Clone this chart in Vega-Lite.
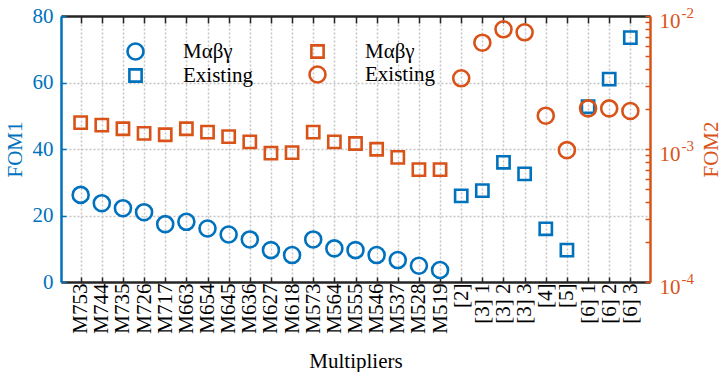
{
  "$schema": "https://vega.github.io/schema/vega-lite/v6.json",
  "width": 589,
  "height": 266,
  "autosize": "none",
  "padding": {"left": 61, "top": 16, "right": 78, "bottom": 90},
  "background": "white",
  "config": {"view": {"stroke": null}, "font": "Liberation Serif"},
  "data": {
    "values": [
      {"name": "M753", "series": "Mαβγ", "FOM1": 26.2, "FOM2": 0.00158},
      {"name": "M744", "series": "Mαβγ", "FOM1": 23.7, "FOM2": 0.00151},
      {"name": "M735", "series": "Mαβγ", "FOM1": 22.2, "FOM2": 0.00142},
      {"name": "M726", "series": "Mαβγ", "FOM1": 21.0, "FOM2": 0.00131},
      {"name": "M717", "series": "Mαβγ", "FOM1": 17.4, "FOM2": 0.00128},
      {"name": "M663", "series": "Mαβγ", "FOM1": 18.1, "FOM2": 0.00142},
      {"name": "M654", "series": "Mαβγ", "FOM1": 16.1, "FOM2": 0.00134},
      {"name": "M645", "series": "Mαβγ", "FOM1": 14.3, "FOM2": 0.00124},
      {"name": "M636", "series": "Mαβγ", "FOM1": 12.8, "FOM2": 0.00113},
      {"name": "M627", "series": "Mαβγ", "FOM1": 9.6, "FOM2": 0.00093},
      {"name": "M618", "series": "Mαβγ", "FOM1": 8.1, "FOM2": 0.00094},
      {"name": "M573", "series": "Mαβγ", "FOM1": 12.8, "FOM2": 0.00134},
      {"name": "M564", "series": "Mαβγ", "FOM1": 10.1, "FOM2": 0.00113},
      {"name": "M555", "series": "Mαβγ", "FOM1": 9.6, "FOM2": 0.0011},
      {"name": "M546", "series": "Mαβγ", "FOM1": 8.1, "FOM2": 0.000995},
      {"name": "M537", "series": "Mαβγ", "FOM1": 6.6, "FOM2": 0.000866},
      {"name": "M528", "series": "Mαβγ", "FOM1": 4.9, "FOM2": 0.0007},
      {"name": "M519", "series": "Mαβγ", "FOM1": 3.6, "FOM2": 0.0007},
      {"name": "[2]", "series": "Existing", "FOM1": 25.9, "FOM2": 0.0034},
      {"name": "[3] 1", "series": "Existing", "FOM1": 27.5, "FOM2": 0.0063},
      {"name": "[3] 2", "series": "Existing", "FOM1": 36.0, "FOM2": 0.00794},
      {"name": "[3] 3", "series": "Existing", "FOM1": 32.5, "FOM2": 0.00754},
      {"name": "[4]", "series": "Existing", "FOM1": 16.0, "FOM2": 0.00178},
      {"name": "[5]", "series": "Existing", "FOM1": 9.6, "FOM2": 0.00098},
      {"name": "[6] 1", "series": "Existing", "FOM1": 52.7, "FOM2": 0.00202},
      {"name": "[6] 2", "series": "Existing", "FOM1": 61.0, "FOM2": 0.00202},
      {"name": "[6] 3", "series": "Existing", "FOM1": 73.5, "FOM2": 0.00193}
    ]
  },
  "layer": [
    {
      "mark": {"type": "point", "filled": false, "color": "#0072BD", "strokeWidth": 2.6, "opacity": 1},
      "encoding": {
        "x": {
          "field": "name", "type": "nominal", "sort": null,
          "scale": {"type": "point", "padding": 0.93},
          "axis": {
            "orient": "bottom", "title": "Multipliers", "labelAngle": -90, "labelOverlap": false,
            "labelFont": "Liberation Serif", "labelFontSize": 21, "labelColor": "black",
            "labelPadding": 6, "labelBaseline": "middle",
            "titleFont": "Liberation Serif", "titleFontSize": 21, "titleFontWeight": "normal", "titleColor": "black", "titlePadding": 17,
            "domainColor": "#262626", "domainWidth": 2.5,
            "tickColor": "#262626", "tickWidth": 1.5, "tickSize": -5,
            "grid": true, "gridColor": "#c4c4c4", "gridDash": [2, 2], "gridWidth": 1.5
          }
        },
        "y": {
          "field": "FOM1", "type": "quantitative",
          "scale": {"domain": [0, 80], "nice": false},
          "axis": {
            "orient": "left", "title": "FOM1", "values": [0, 20, 40, 60, 80], "labelOverlap": false,
            "labelFont": "Liberation Serif", "labelFontSize": 21, "labelColor": "#0072BD", "labelPadding": 13,
            "titleFont": "Liberation Serif", "titleFontSize": 21, "titleFontWeight": "normal", "titleColor": "#0072BD", "titlePadding": 7,
            "domainColor": "#0072BD", "domainWidth": 2.5,
            "tickColor": "#0072BD", "tickWidth": 1.5, "tickSize": -5,
            "grid": true, "gridColor": "#c4c4c4", "gridDash": [2, 2], "gridWidth": 1.5
          }
        },
        "shape": {
          "field": "series", "type": "nominal",
          "scale": {"domain": ["Mαβγ", "Existing"], "range": ["circle", "square"]},
          "legend": {
            "orient": "none", "legendX": 64, "legendY": 25, "title": null,
            "labelFont": "Liberation Serif", "labelFontSize": 21, "labelColor": "black",
            "labelOffset": 37, "rowPadding": -2,
            "symbolStrokeColor": "#0072BD", "symbolFillColor": "transparent", "symbolStrokeWidth": 2.6
          }
        },
        "size": {
          "field": "series", "type": "nominal",
          "scale": {"type": "ordinal", "domain": ["Mαβγ", "Existing"], "range": [256, 150]},
          "legend": {
            "orient": "none", "legendX": 64, "legendY": 25, "title": null,
            "labelFont": "Liberation Serif", "labelFontSize": 21, "labelColor": "black",
            "labelOffset": 37, "rowPadding": -2,
            "symbolStrokeColor": "#0072BD", "symbolFillColor": "transparent", "symbolStrokeWidth": 2.6
          }
        }
      }
    },
    {
      "mark": {"type": "point", "filled": false, "color": "#D95319", "strokeWidth": 2.6, "opacity": 1},
      "encoding": {
        "x": {
          "field": "name", "type": "nominal", "sort": null,
          "scale": {"type": "point", "padding": 0.93},
          "axis": {
            "orient": "top", "title": null, "labels": false,
            "domainColor": "#262626", "domainWidth": 2.5,
            "tickColor": "#262626", "tickWidth": 1.5, "tickSize": -7, "grid": false
          }
        },
        "y": {
          "field": "FOM2", "type": "quantitative",
          "scale": {"type": "log", "domain": [0.0001, 0.01], "nice": false},
          "axis": {
            "orient": "right", "title": "FOM2", "titleAngle": 270, "titleBaseline": "top", "labelOverlap": false,
            "values": [0.0001, 0.0002, 0.0003, 0.0004, 0.0005, 0.0006, 0.0007, 0.0008, 0.0009, 0.001, 0.002, 0.003, 0.004, 0.005, 0.006, 0.007, 0.008, 0.009, 0.01],
            "labelExpr": "(datum.value == 0.01 || datum.value == 0.001 || datum.value == 0.0001) ? '10' : ''",
            "labelFont": "Liberation Serif", "labelFontSize": 21, "labelColor": "#D95319", "labelPadding": 14, "labelOffset": 5,
            "titleFont": "Liberation Serif", "titleFontSize": 21, "titleFontWeight": "normal", "titleColor": "#D95319", "titlePadding": 20,
            "domainColor": "#D95319", "domainWidth": 2.5,
            "tickColor": "#D95319", "tickWidth": 1.5, "tickSize": -5,
            "grid": false
          }
        },
        "shape": {
          "field": "series", "type": "nominal",
          "scale": {"domain": ["Mαβγ", "Existing"], "range": ["square", "circle"]},
          "legend": {
            "orient": "none", "legendX": 246, "legendY": 25, "title": null,
            "labelFont": "Liberation Serif", "labelFontSize": 21, "labelColor": "black",
            "labelOffset": 37, "rowPadding": -2,
            "symbolStrokeColor": "#D95319", "symbolFillColor": "transparent", "symbolStrokeWidth": 2.6
          }
        },
        "size": {
          "field": "series", "type": "nominal",
          "scale": {"type": "ordinal", "domain": ["Mαβγ", "Existing"], "range": [150, 256]},
          "legend": {
            "orient": "none", "legendX": 246, "legendY": 25, "title": null,
            "labelFont": "Liberation Serif", "labelFontSize": 21, "labelColor": "black",
            "labelOffset": 37, "rowPadding": -2,
            "symbolStrokeColor": "#D95319", "symbolFillColor": "transparent", "symbolStrokeWidth": 2.6
          }
        }
      }
    },
    {
      "mark": {"type": "point", "opacity": 0},
      "encoding": {
        "x": {"field": "name", "type": "nominal", "sort": null, "scale": {"type": "point", "padding": 0.93}, "axis": null},
        "y": {
          "field": "FOM2", "type": "quantitative",
          "scale": {"type": "log", "domain": [0.0001, 0.01], "nice": false},
          "axis": {
            "orient": "right", "title": null, "values": [0.0001, 0.001, 0.01], "labelOverlap": false,
            "labelExpr": "datum.value == 0.01 ? '-2' : (datum.value == 0.001 ? '-3' : '-4')",
            "labelFont": "Liberation Serif", "labelFontSize": 15, "labelColor": "#D95319", "labelPadding": 31, "labelOffset": -4,
            "domain": false, "ticks": false, "grid": false
          }
        }
      }
    }
  ],
  "resolve": {
    "scale": {"y": "independent", "shape": "independent", "size": "independent"},
    "axis": {"x": "independent"},
    "legend": {"shape": "independent", "size": "independent"}
  }
}
